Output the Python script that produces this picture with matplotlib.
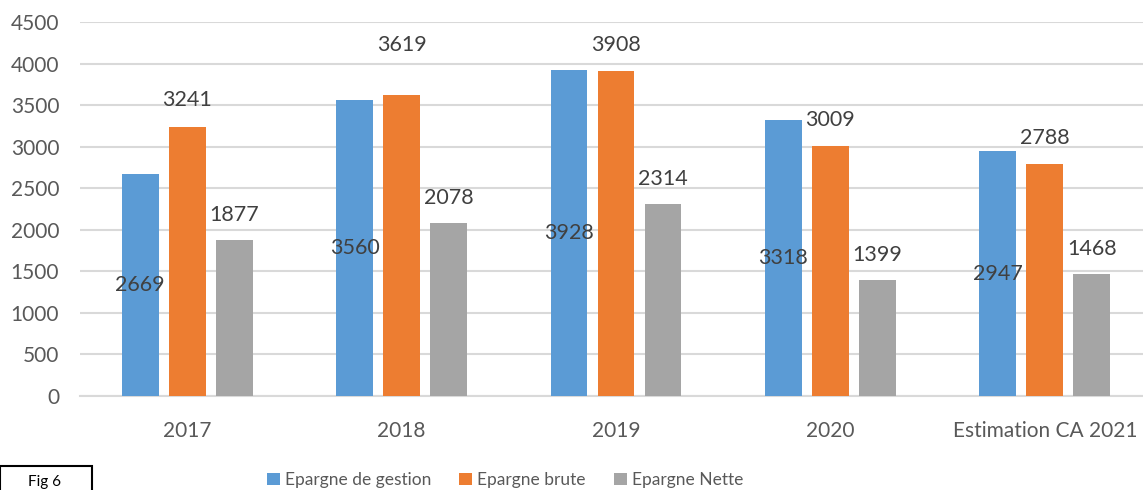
import matplotlib.pyplot as plt
import numpy as np
from matplotlib.patches import Rectangle

# valeurs
categories = ['2017', '2018', '2019', '2020', 'Estimation CA 2021']
epargne_gestion = [2669, 3560, 3928, 3318, 2947]
epargne_brute = [3241, 3619, 3908, 3009, 2788]
epargne_nette = [1877, 2078, 2314, 1399, 1468]
series_names = ['Epargne de gestion', 'Epargne brute', 'Epargne Nette']
colors = ['#5B9BD5', '#ED7D31', '#A5A5A5']

plt.rcParams['font.family'] = ['Lato', 'DejaVu Sans']

fig = plt.figure(figsize=(11.43, 4.9), dpi=100)
ax = fig.add_axes([80 / 1143, 94 / 490, 1072 / 1143, 374 / 490])

x = np.arange(len(categories))
w = 0.172
step = 0.219
series = [epargne_gestion, epargne_brute, epargne_nette]
bars = []
for i, (vals, col, name) in enumerate(zip(series, colors, series_names)):
    b = ax.bar(x + (i - 1) * step, vals, width=w, color=col, label=name, zorder=3)
    bars.append(b)

label_color = '#404040'
fs = 15.5
# étiquettes : gestion au milieu de la barre, les autres au-dessus
for rect, v in zip(bars[0], epargne_gestion):
    ax.text(rect.get_x() + rect.get_width() / 2, v / 2, str(v),
            ha='center', va='center', fontsize=fs, color=label_color, zorder=4)
brute_offsets = [19, 36, 19, 19, 19]
for rect, v, off in zip(bars[1], epargne_brute, brute_offsets):
    ax.annotate(str(v), (rect.get_x() + rect.get_width() / 2, v),
                xytext=(0, off), textcoords='offset points',
                ha='center', va='center', fontsize=fs, color=label_color, zorder=4)
for rect, v in zip(bars[2], epargne_nette):
    ax.annotate(str(v), (rect.get_x() + rect.get_width() / 2, v),
                xytext=(0, 18), textcoords='offset points',
                ha='center', va='center', fontsize=fs, color=label_color, zorder=4)

ax.set_xlim(-0.5, 4.5)
ax.set_ylim(0, 4500)
ax.set_yticks(range(0, 4501, 500))
ax.set_xticks(x)
ax.set_xticklabels(categories)
ax.yaxis.grid(True, color='#D9D9D9', linewidth=1.5, zorder=0)
for s in ['top', 'right', 'left']:
    ax.spines[s].set_visible(False)
ax.spines['bottom'].set_color('#D9D9D9')
ax.spines['bottom'].set_linewidth(1.5)
ax.tick_params(axis='both', length=0, labelsize=15, colors='#595959')
ax.tick_params(axis='y', pad=15)
ax.tick_params(axis='x', pad=18)

fig.legend(loc='center', bbox_to_anchor=(505 / 1143, 10 / 490), ncol=3,
           frameon=False, fontsize=12.5, handlelength=0.75, handleheight=0.75,
           columnspacing=1.6, handletextpad=0.3, labelcolor='#595959')

fig.add_artist(Rectangle((0, -0.05), 92 / 1143, 0.05 + 24 / 490,
                         transform=fig.transFigure, fill=False,
                         edgecolor='black', linewidth=1.5))
fig.text(45 / 1143, 1 / 490, 'Fig 6', ha='center', va='bottom',
         fontsize=11, color='black')

fig.savefig('out.png', dpi=100)
